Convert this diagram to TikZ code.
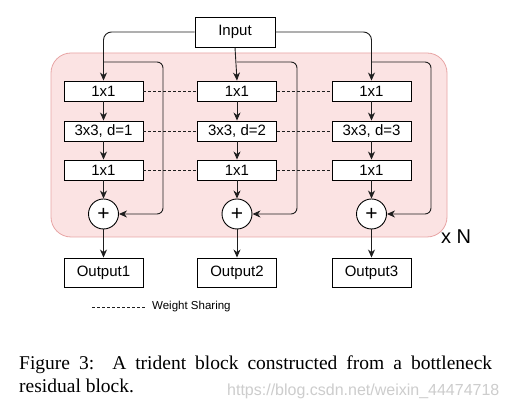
\documentclass[tikz,border=0pt]{standalone}
\usepackage{fontspec}
\setmainfont{Liberation Serif}
\setsansfont{Liberation Sans}
\usetikzlibrary{arrows.meta}
\definecolor{pinkfill}{RGB}{251,227,227}
\definecolor{pinkline}{RGB}{232,165,165}
\definecolor{linegray}{RGB}{30,30,30}
\definecolor{wmgray}{RGB}{205,205,205}
\tikzset{
  blk/.style={draw=black, line width=0.9pt, fill=white, minimum width=79pt, minimum height=20pt, inner sep=0pt, font=\sffamily\fontsize{15}{15}\selectfont},
  outbox/.style={blk, minimum height=29pt},
  plus/.style={draw=black, line width=0.9pt, fill=white, circle, minimum size=30pt, inner sep=0pt, font=\sffamily\fontsize{21}{21}\selectfont},
  conn/.style={draw=linegray, line width=0.9pt, -{Stealth[length=8pt,width=7pt,inset=2.5pt]}},
  skip/.style={conn, rounded corners=6pt},
  share/.style={draw=linegray, line width=0.8pt, dash pattern=on 3pt off 2pt},
}
\begin{document}
\begin{tikzpicture}[x=1pt,y=-1pt]
\useasboundingbox (0,0) rectangle (507,411);
\fill[white] (0,0) rectangle (507,411);
% repeated block
\draw[fill=pinkfill, draw=pinkline, line width=0.8pt, rounded corners=20pt] (51,53) rectangle (447,237);
% input
\node[blk, minimum width=80pt, minimum height=30pt] (in) at (235,32) {Input};
% columns
\foreach \i/\x/\d in {1/103.5/1, 2/237/2, 3/371.5/3}{
  \node[blk] (a\i) at (\x,91) {1x1};
  \node[blk] (b\i) at (\x,131) {3x3, d=\d};
  \node[blk] (c\i) at (\x,170) {1x1};
  \node[plus] (p\i) at (\x,214) {+};
  \node[outbox] (o\i) at (\x,272.5) {Output\i};
  \coordinate (s\i) at (\x,62);
  \draw[conn] (a\i) -- (b\i);
  \draw[conn] (b\i) -- (c\i);
  \draw[conn] (c\i) -- (p\i);
  \draw[conn] (p\i) -- (o\i);
}
% input to branches
\draw[conn, rounded corners=8pt] (in.west) -| (a1.north);
\draw[conn] (in.south) -- (a2.north);
\draw[conn, rounded corners=8pt] (in.east) -| (a3.north);
% skip connections
\coordinate (r1) at (163,62);
\coordinate (r2) at (297,62);
\coordinate (r3) at (431,62);
\draw[skip] (s1) -- (r1) |- (p1.east);
\draw[skip] (s2) -- (r2) |- (p2.east);
\draw[skip] (s3) -- (r3) |- (p3.east);
% weight sharing
\foreach \r in {a,b,c}{
  \draw[share] (\r1.east) -- (\r2.west);
  \draw[share] (\r2.east) -- (\r3.west);
}
% x N
\node[anchor=west, inner sep=0pt, font=\sffamily\fontsize{20}{20}\selectfont] (xn) at (441,237) {x N};
% legend
\coordinate (l1) at (92,307);
\coordinate (l2) at (146,307);
\draw[share] (l1) -- (l2);
\node[anchor=west, inner sep=0pt, font=\sffamily\fontsize{11.5}{11.5}\selectfont] (leg) at (152,307) {Weight Sharing};
% caption
\node[anchor=north west, inner sep=0pt, text width=473pt, align=justify, font=\fontsize{19.5}{23}\selectfont] (cap) at (19,356) {Figure 3:\ \ A trident block constructed from a bottleneck\linebreak residual block.};
% watermark
\node[anchor=base west, inner sep=0pt, text=wmgray, font=\sffamily\fontsize{16}{16}\selectfont] (wm) at (227,396) {https://blog.csdn.net/weixin\_44474718};
\end{tikzpicture}
\end{document}
